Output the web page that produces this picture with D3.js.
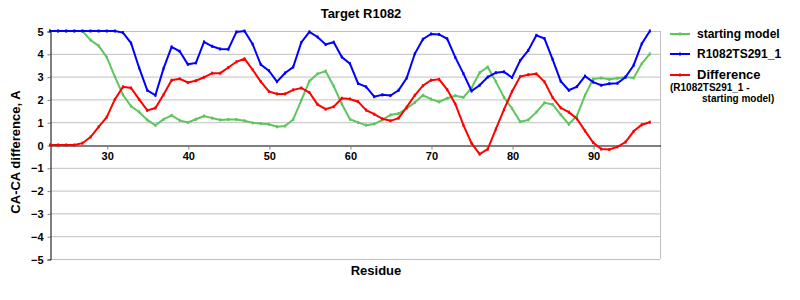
<!DOCTYPE html>
<html>
<head>
<meta charset="utf-8">
<script src="https://cdn.jsdelivr.net/npm/d3@7"></script>
<style>
  body { margin: 0; background: #fff; }
  text { font-family: "Liberation Sans", Arial, sans-serif; font-weight: bold; }
</style>
</head>
<body>
<div class="chart"></div>
<script>
// residues 23..97
const residues = d3.range(23, 98);

const startingModel = [
  5, 5, 5, 5, 5, 4.6, 4.35, 3.85, 3.0, 2.2,
  1.7, 1.45, 1.1, 0.86, 1.12, 1.3, 1.08, 0.99, 1.13, 1.27,
  1.18, 1.1, 1.12, 1.12, 1.06, 0.97, 0.94, 0.91, 0.8, 0.83,
  1.12, 1.96, 2.8, 3.12, 3.24, 2.58, 1.8, 1.13, 0.99, 0.87,
  0.92, 1.1, 1.32, 1.38, 1.6, 1.86, 2.18, 2.01, 1.89, 2.05,
  2.16, 2.09, 2.5, 3.17, 3.42, 2.78, 2.09, 1.6, 1.02, 1.1,
  1.44, 1.85, 1.78, 1.33, 0.91, 1.28, 2.18, 2.89, 2.94, 2.88,
  2.93, 2.98, 2.94, 3.57, 4.0
];

const model291 = [
  5, 5, 5, 5, 5, 5, 5, 5, 5, 4.93,
  4.47, 3.38, 2.4, 2.18, 3.35, 4.3, 4.11, 3.54, 3.6, 4.52,
  4.33, 4.21, 4.2, 4.96, 5.0, 4.42, 3.53, 3.26, 2.78, 3.16,
  3.42, 4.5, 4.96, 4.74, 4.41, 4.51, 3.86, 3.57, 2.7, 2.55,
  2.12, 2.2, 2.17, 2.4, 2.94, 4.0, 4.64, 4.87, 4.85, 4.66,
  3.84, 3.13, 2.37, 2.62, 2.98, 3.17, 3.21, 2.96, 3.7, 4.15,
  4.81, 4.67, 3.76, 2.8, 2.4, 2.56, 3.02, 2.76, 2.62, 2.69,
  2.71, 2.98, 3.5, 4.44, 5.0
];

const difference = [
  0, 0, 0, 0, 0.08, 0.35, 0.8, 1.22, 2.0, 2.55,
  2.5, 2.0, 1.52, 1.62, 2.2, 2.84, 2.9, 2.74, 2.82, 2.97,
  3.15, 3.15, 3.4, 3.65, 3.78, 3.3, 2.78, 2.35, 2.24, 2.24,
  2.42, 2.5, 2.3, 1.78, 1.57, 1.68, 2.05, 2.02, 1.9, 1.53,
  1.35, 1.15, 1.06, 1.18, 1.66, 2.18, 2.6, 2.84, 2.88, 2.43,
  1.8, 0.87, 0.08, -0.4, -0.18, 0.7, 1.55, 2.35, 3.0, 3.08,
  3.12, 2.77, 2.08, 1.63, 1.44, 1.15, 0.62, 0.11, -0.18, -0.2,
  -0.08, 0.13, 0.6, 0.89, 1.0
];

const xTicks = [30, 40, 50, 60, 70, 80, 90];
const yTicks = [5, 4, 3, 2, 1, 0, -1, -2, -3, -4, -5];

const series = [
  {name: 'starting model', values: startingModel, color: '#5ec55e'},
  {name: 'R1082TS291_1', values: model291, color: '#0000ff'},
  {name: 'Difference', values: difference, color: '#ff0000'}
];

const W = 800, H = 300;
const margin = {top: 31, left: 50, right: 140, bottom: 41};

const svg = d3.select('.chart').append('svg')
  .attr('width', W)
  .attr('height', H);

const x = d3.scaleLinear().domain([23, 98.25]).range([margin.left, W - margin.right]);
const y = d3.scaleLinear().domain([-5, 5]).range([H - margin.bottom, margin.top]);

// gridlines
svg.append('g')
  .selectAll('line')
  .data(yTicks.filter(d => d !== 0))
  .join('line')
  .attr('x1', x.range()[0]).attr('x2', x.range()[1])
  .attr('y1', d => y(d) + 0.5).attr('y2', d => y(d) + 0.5)
  .attr('stroke', '#c0c0c0');

// right border of plot area
svg.append('line')
  .attr('x1', x.range()[1] + 0.5).attr('x2', x.range()[1] + 0.5)
  .attr('y1', y(5)).attr('y2', y(-5))
  .attr('stroke', '#c0c0c0');

// y axis
const yAxis = svg.append('g')
  .attr('transform', `translate(${margin.left + 0.5},0.5)`)
  .call(d3.axisLeft(y).tickValues(yTicks).tickSize(3).tickPadding(4));
yAxis.select('.domain').attr('stroke', '#000');
yAxis.selectAll('.tick line').attr('stroke', '#808080');
yAxis.selectAll('text').attr('font-size', 11).attr('fill', '#000');

// x axis sits on zero
const xAxis = svg.append('g')
  .attr('transform', `translate(0.5,${y(0) + 0.5})`)
  .call(d3.axisBottom(x).tickValues(xTicks).tickSize(4).tickPadding(3).tickSizeOuter(0));
xAxis.select('.domain').attr('stroke', '#000');
xAxis.selectAll('.tick line').attr('stroke', '#808080');
xAxis.selectAll('text').attr('font-size', 11).attr('fill', '#000');

// lines
const line = d3.line()
  .x((d, i) => x(residues[i]))
  .y(d => y(d));

series.forEach(s => {
  svg.append('path')
    .datum(s.values)
    .attr('fill', 'none')
    .attr('stroke', s.color)
    .attr('stroke-width', 2)
    .attr('d', line);
  svg.append('g')
    .selectAll('rect')
    .data(s.values)
    .join('rect')
    .attr('x', (d, i) => x(residues[i]) - 1)
    .attr('y', d => y(d) - 1.5)
    .attr('width', 2)
    .attr('height', 3)
    .attr('fill', s.color);
});

// titles
svg.append('text')
  .attr('x', 361).attr('y', 18)
  .attr('text-anchor', 'middle')
  .attr('font-size', 13)
  .text('Target R1082');

svg.append('text')
  .attr('x', 376).attr('y', 275)
  .attr('text-anchor', 'middle')
  .attr('font-size', 13)
  .text('Residue');

svg.append('text')
  .attr('transform', 'translate(20,152) rotate(-90)')
  .attr('text-anchor', 'middle')
  .attr('font-size', 13)
  .text('CA-CA difference, A');

// legend
const legendY = [34, 54, 75];
const legend = svg.append('g');
series.forEach((s, i) => {
  legend.append('line')
    .attr('x1', 670).attr('x2', 690)
    .attr('y1', legendY[i]).attr('y2', legendY[i])
    .attr('stroke', s.color).attr('stroke-width', 2);
  legend.append('rect')
    .attr('x', 679).attr('y', legendY[i] - 1.5)
    .attr('width', 2).attr('height', 3)
    .attr('fill', s.color);
  legend.append('text')
    .attr('x', 697).attr('y', legendY[i] + 4)
    .attr('font-size', i === 2 ? 13 : 12)
    .text(s.name);
});
legend.append('text')
  .attr('x', 670).attr('y', 90.5)
  .attr('font-size', 10)
  .text('(R1082TS291_1 -');
legend.append('text')
  .attr('x', 702).attr('y', 101.5)
  .attr('font-size', 10)
  .text('starting model)');
</script>
</body>
</html>
